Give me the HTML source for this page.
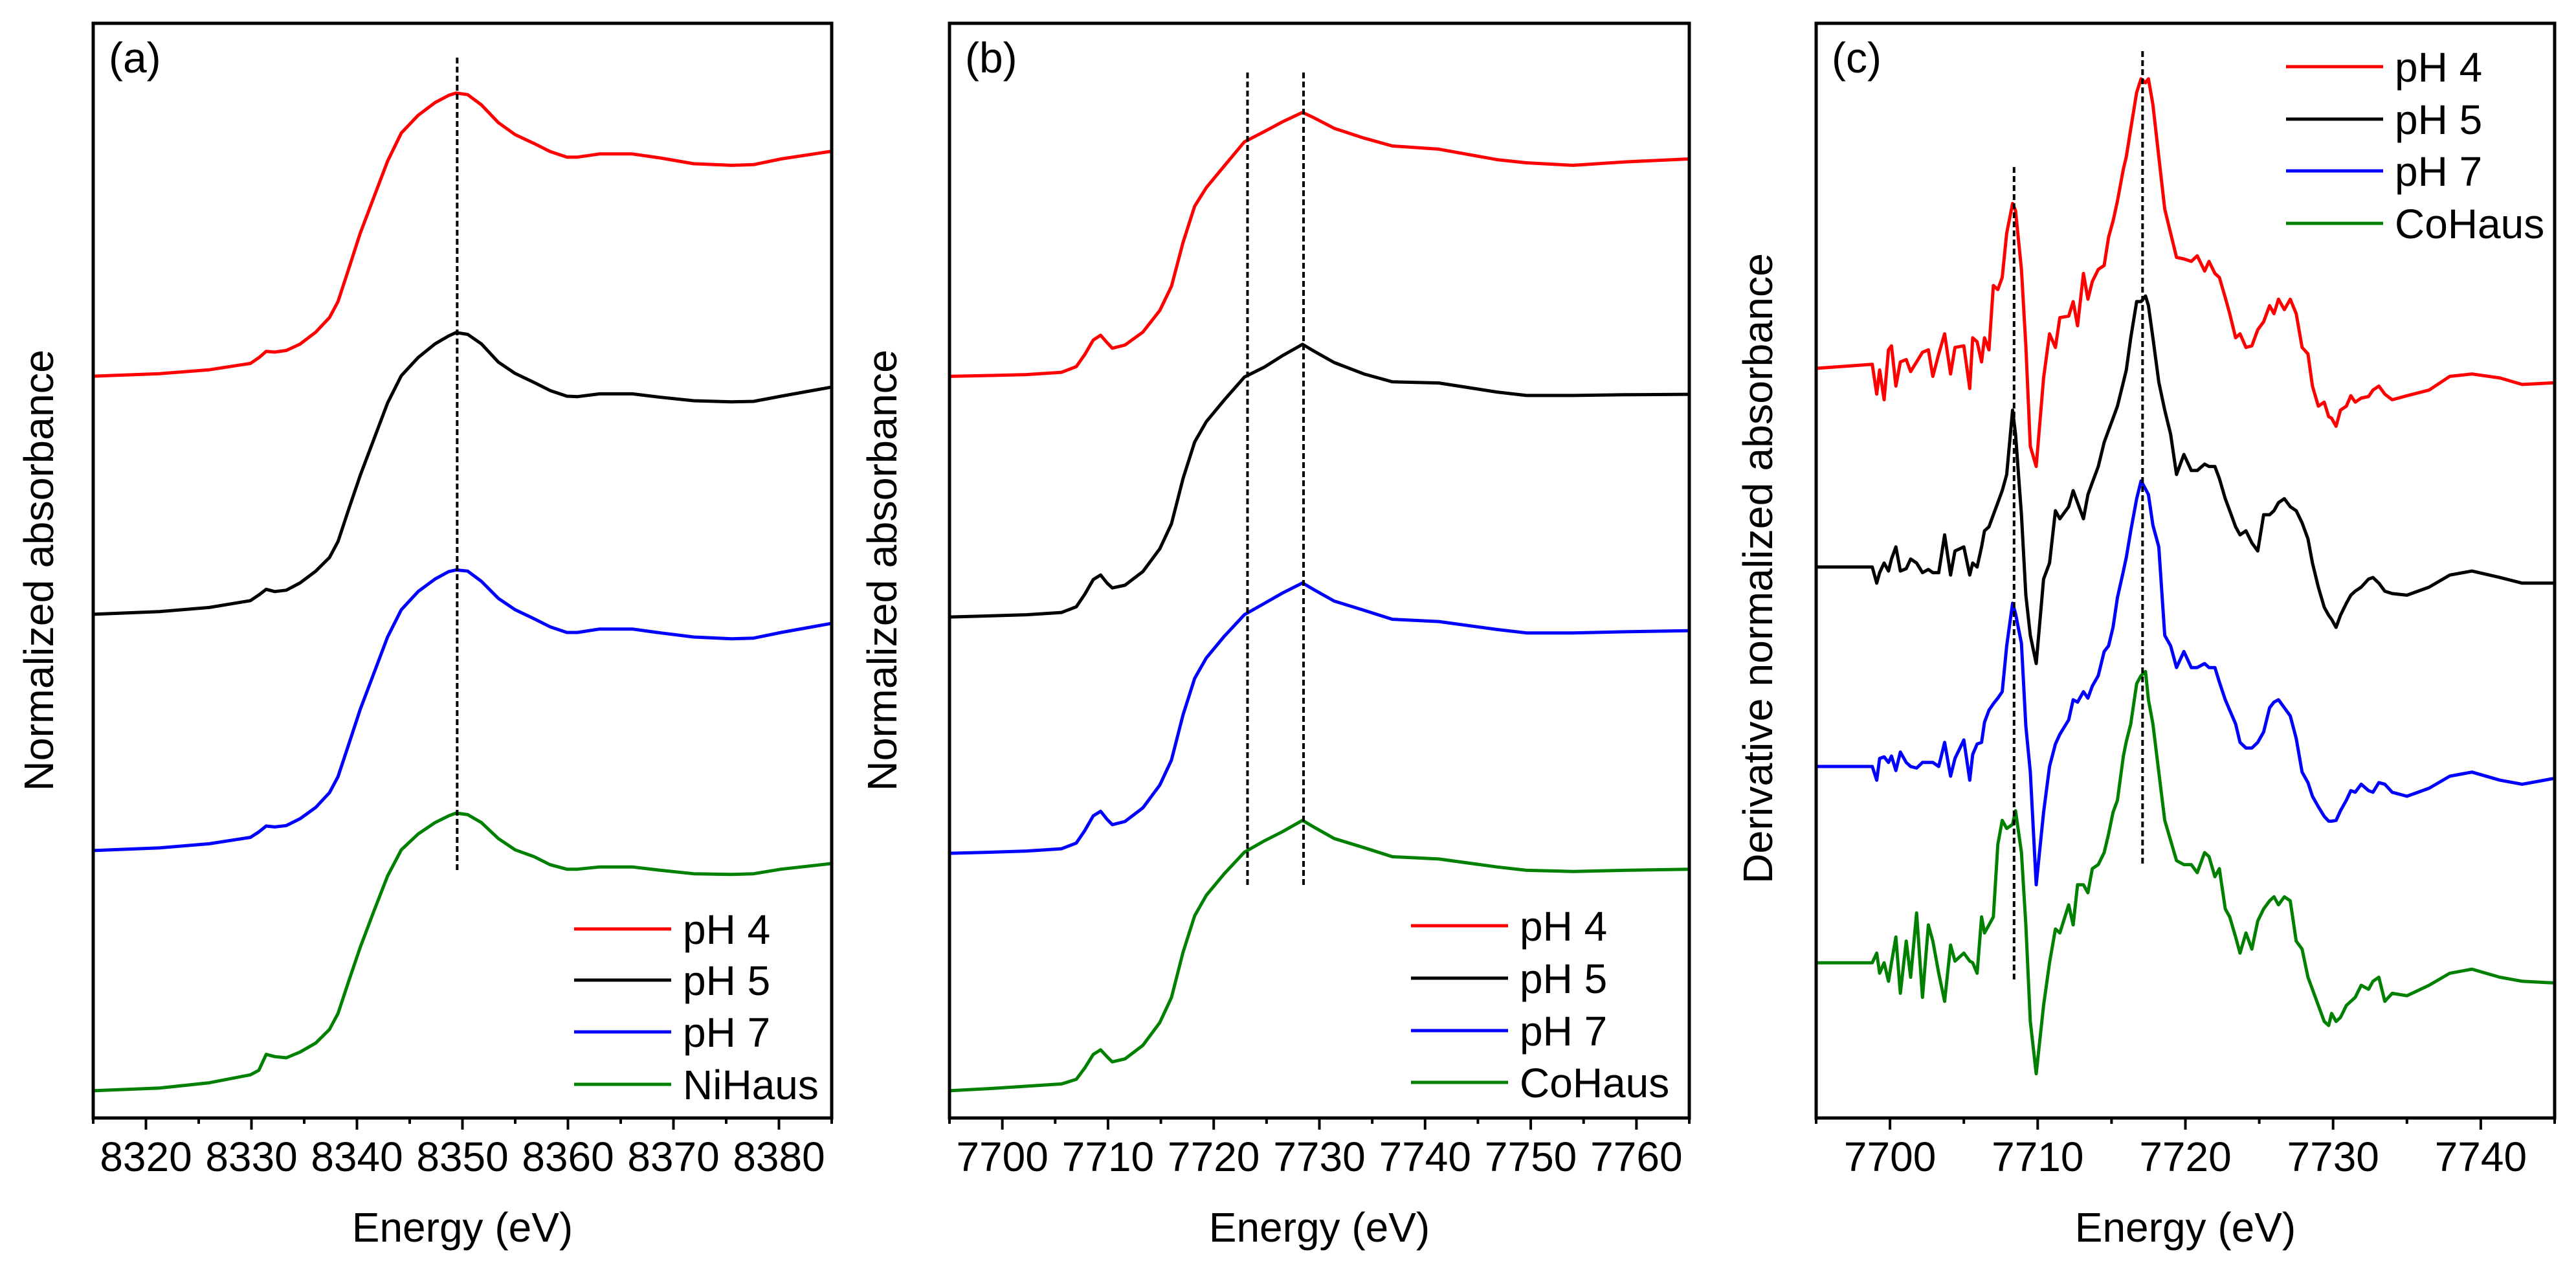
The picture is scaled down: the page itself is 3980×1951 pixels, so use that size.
<!DOCTYPE html>
<html><head><meta charset="utf-8"><style>
html,body{margin:0;padding:0;background:#fff;}
svg{display:block;font-family:"Liberation Sans",Arial,sans-serif;}
</style></head><body>
<svg id="fig" width="3980" height="1951" viewBox="0 0 3980 1951" xmlns="http://www.w3.org/2000/svg"></svg>
<script>
// ---------- Panel (a) Ni K-edge ----------
const aEnergy=[8315,8321.3,8326,8329.9,8330.7,8331.4,8332.2,8333.3,8334.6,8336.1,8337.4,8338.2,8339.2,8340.3,8341.6,8342.9,8344.2,8345.8,8347.4,8348.7,8349.4,8350.5,8351.8,8353.4,8355,8356.8,8358.3,8359.9,8360.9,8363,8366.1,8368.8,8371.9,8375.5,8377.6,8380.2,8385];
const aPH4=[0,0.011,0.028,0.056,0.081,0.109,0.106,0.113,0.141,0.194,0.258,0.328,0.47,0.628,0.787,0.946,1.07,1.148,1.204,1.236,1.246,1.239,1.194,1.116,1.063,1.024,0.989,0.964,0.964,0.978,0.978,0.96,0.935,0.928,0.931,0.956,0.99];
const aPH5=[0,0.012,0.03,0.06,0.085,0.11,0.1,0.106,0.138,0.19,0.25,0.32,0.46,0.61,0.77,0.93,1.05,1.13,1.19,1.225,1.24,1.232,1.19,1.11,1.06,1.02,0.985,0.96,0.958,0.97,0.97,0.955,0.94,0.935,0.937,0.96,1.0];
const aPH7=[0,0.012,0.03,0.058,0.082,0.108,0.104,0.11,0.14,0.19,0.255,0.325,0.465,0.62,0.78,0.94,1.06,1.14,1.195,1.228,1.235,1.23,1.185,1.11,1.06,1.02,0.985,0.96,0.96,0.975,0.975,0.958,0.94,0.932,0.935,0.96,1.0];
const aRef=[0,0.012,0.035,0.07,0.09,0.16,0.15,0.145,0.17,0.21,0.27,0.34,0.48,0.63,0.79,0.945,1.06,1.13,1.18,1.21,1.222,1.215,1.18,1.11,1.06,1.03,0.995,0.975,0.975,0.985,0.985,0.97,0.955,0.952,0.955,0.975,1.0];
const aOffsets=[3.145,2.097,1.057,0];
const aTicks=[8320,8330,8340,8350,8360,8370,8380];
const aDash=[8349.5];
// ---------- Panel (b) Co K-edge ----------
const bEnergy=[7695,7699,7702.3,7705.6,7707,7707.8,7708.6,7709.3,7709.9,7710.4,7711.6,7713.3,7714.9,7716,7717.1,7718.2,7719.3,7721,7722.9,7724.8,7726.5,7728.4,7729.5,7731.4,7734.2,7736.9,7741.3,7746.8,7749.6,7754,7758.9,7765];
const bPH4=[0,0.004,0.008,0.018,0.043,0.096,0.16,0.181,0.149,0.124,0.138,0.195,0.29,0.396,0.59,0.749,0.831,0.926,1.032,1.078,1.12,1.162,1.138,1.092,1.049,1.014,1.0,0.954,0.94,0.929,0.944,0.957];
const bPH5=[0,0.005,0.01,0.02,0.045,0.1,0.165,0.185,0.15,0.128,0.14,0.2,0.3,0.41,0.61,0.77,0.86,0.955,1.056,1.1,1.15,1.2,1.17,1.12,1.07,1.035,1.03,0.99,0.975,0.975,0.978,0.98];
const bPH7=[0,0.005,0.01,0.02,0.045,0.1,0.165,0.185,0.15,0.126,0.14,0.2,0.3,0.41,0.61,0.77,0.86,0.955,1.05,1.1,1.145,1.19,1.16,1.11,1.07,1.03,1.02,0.985,0.97,0.97,0.975,0.98];
const bRef=[0,0.01,0.02,0.03,0.05,0.1,0.16,0.18,0.15,0.127,0.14,0.2,0.3,0.41,0.61,0.77,0.86,0.955,1.05,1.1,1.14,1.19,1.16,1.11,1.07,1.03,1.02,0.985,0.97,0.965,0.97,0.975];
const bOffsets=[3.144,2.085,1.045,0];
const bTicks=[7700,7710,7720,7730,7740,7750,7760];
const bDash=[7723.2,7728.5];
// ---------- Panel (c) derivative ----------
const cEnergy=[7695.0,7698.8,7699.1,7699.3,7699.6,7699.9,7700.1,7700.4,7700.7,7701.1,7701.4,7701.8,7702.2,7702.6,7702.9,7703.3,7703.7,7704.1,7704.4,7705.0,7705.4,7705.6,7705.9,7706.2,7706.4,7706.7,7707.0,7707.3,7707.6,7707.9,7708.3,7708.5,7708.9,7709.2,7709.5,7709.9,7710.4,7710.8,7711.2,7711.5,7712.1,7712.4,7712.7,7713.1,7713.4,7713.7,7714.1,7714.5,7714.8,7715.1,7715.4,7715.8,7716.0,7716.3,7716.7,7717.0,7717.3,7717.5,7717.8,7718.2,7718.6,7719.0,7719.4,7719.9,7720.4,7720.8,7721.3,7721.6,7722.0,7722.3,7722.7,7723.0,7723.4,7723.7,7724.1,7724.5,7724.9,7725.3,7725.7,7726.0,7726.3,7726.7,7727.1,7727.5,7727.9,7728.3,7728.6,7729.0,7729.4,7729.7,7729.9,7730.2,7730.5,7730.9,7731.2,7731.5,7731.9,7732.4,7732.7,7733.1,7733.5,7734.0,7735.0,7736.5,7737.9,7739.4,7741.3,7742.8,7744.9];
const cPH4=[0,0.05,-0.32,-0.02,-0.39,0.23,0.28,-0.22,0.08,0.11,-0.04,0.08,0.2,0.23,-0.1,0.18,0.43,-0.07,0.26,0.28,-0.25,0.38,0.33,0.08,0.38,0.23,1.03,0.98,1.13,1.68,2.05,1.96,1.23,0.28,-0.97,-1.22,-0.12,0.43,0.26,0.63,0.65,0.83,0.53,1.18,0.86,1.08,1.23,1.28,1.63,1.83,2.08,2.48,2.63,2.98,3.43,3.6,3.55,3.6,3.28,2.63,1.98,1.68,1.38,1.36,1.33,1.4,1.21,1.33,1.18,1.13,0.88,0.68,0.38,0.43,0.26,0.28,0.48,0.58,0.78,0.68,0.86,0.73,0.86,0.68,0.26,0.18,-0.22,-0.47,-0.42,-0.6,-0.62,-0.72,-0.52,-0.47,-0.34,-0.42,-0.37,-0.35,-0.27,-0.22,-0.32,-0.39,-0.34,-0.27,-0.1,-0.07,-0.12,-0.2,-0.18];
const cPH5=[0,0,-0.2,-0.07,0.05,-0.05,0.1,0.25,-0.05,-0.02,0.1,0.05,-0.07,-0.03,-0.07,-0.07,0.4,-0.1,0.2,0.25,-0.1,0.05,0,0.25,0.45,0.5,0.65,0.8,0.95,1.15,1.95,1.65,0.65,-0.35,-0.85,-1.2,-0.15,0.05,0.7,0.6,0.75,0.95,0.8,0.6,0.9,1.05,1.25,1.55,1.7,1.85,2.0,2.3,2.45,2.85,3.3,3.3,3.37,3.25,2.85,2.3,1.95,1.65,1.15,1.4,1.2,1.2,1.28,1.25,1.25,1.1,0.85,0.7,0.5,0.4,0.45,0.3,0.2,0.65,0.65,0.7,0.8,0.85,0.75,0.7,0.55,0.35,0.05,-0.25,-0.5,-0.6,-0.65,-0.75,-0.6,-0.45,-0.35,-0.3,-0.25,-0.15,-0.13,-0.2,-0.3,-0.33,-0.35,-0.25,-0.1,-0.05,-0.13,-0.2,-0.2];
const cPH7=[0,0,-0.17,0.1,0.12,0.05,0.13,-0.05,0.18,0.05,0,-0.02,0.05,0.05,0.05,0,0.3,-0.12,0.1,0.33,-0.17,0.15,0.28,0.3,0.55,0.7,0.78,0.85,0.93,1.5,2.03,1.9,1.53,0.5,-0.07,-1.47,-0.57,0,0.28,0.4,0.58,0.83,0.8,0.93,0.85,1.0,1.13,1.43,1.5,1.73,2.1,2.43,2.6,2.93,3.33,3.55,3.45,3.38,3.0,2.73,1.63,1.5,1.23,1.43,1.23,1.23,1.28,1.23,1.23,1.05,0.83,0.7,0.53,0.3,0.23,0.23,0.3,0.43,0.73,0.8,0.83,0.73,0.63,0.35,-0.07,-0.2,-0.37,-0.5,-0.62,-0.68,-0.68,-0.67,-0.55,-0.42,-0.3,-0.32,-0.22,-0.3,-0.32,-0.2,-0.22,-0.32,-0.37,-0.27,-0.12,-0.07,-0.17,-0.22,-0.15];
const cRef=[0,0,0.12,-0.13,0,-0.23,0,0.32,-0.38,0.27,-0.18,0.62,-0.43,0.47,0.27,-0.13,-0.48,0.22,0.02,0.12,0.02,0,-0.13,0.57,0.37,0.47,0.57,1.47,1.77,1.67,1.72,1.89,1.37,0.47,-0.73,-1.38,-0.53,0,0.42,0.37,0.72,0.47,0.97,0.97,0.87,1.17,1.22,1.37,1.6,1.87,2.02,2.57,2.75,2.97,3.47,3.57,3.62,3.27,2.97,2.37,1.77,1.52,1.27,1.22,1.22,1.12,1.37,1.32,1.07,1.17,0.67,0.57,0.32,0.12,0.37,0.17,0.52,0.67,0.77,0.82,0.72,0.82,0.77,0.27,0.17,-0.18,-0.33,-0.53,-0.73,-0.78,-0.63,-0.73,-0.68,-0.53,-0.48,-0.43,-0.28,-0.33,-0.23,-0.18,-0.48,-0.38,-0.41,-0.28,-0.13,-0.08,-0.18,-0.23,-0.25];
const cOffsets=[7.39,4.92,2.44,0];
const cTicks=[7700,7710,7720,7730,7740];
const cDash=[7708.4,7717.1];

const NS="http://www.w3.org/2000/svg";
const svg=document.getElementById('fig');
const colors=['#ff0000','#000000','#0000ff','#008000'];
function mk(tag,attrs,parent){const e=document.createElementNS(NS,tag);for(const k in attrs)e.setAttribute(k,attrs[k]);(parent||svg).appendChild(e);return e;}

function panel(cfg){
  const g=mk('g',{});
  
  
  const L=cfg.left,R=cfg.right,T=36,B=1727;
  const xs=v=>L+(v-cfg.xmin)/(cfg.xmax-cfg.xmin)*(R-L);
  const ys=v=>B-(v-cfg.ymin)/(cfg.ymax-cfg.ymin)*(B-T);
  cfg.series.forEach((s,i)=>{
    let d='';
    cfg.energy.forEach((e,j)=>{d+=(j?'L':'M')+xs(e).toFixed(1)+','+ys(s[j]+cfg.offsets[i]).toFixed(1);});
    const p=mk('path',{d:d,fill:'none',stroke:colors[i],'stroke-width':5,'stroke-linejoin':'round'},g);
    
    
  });
  cfg.dash.forEach((e,k)=>{
    const ln=mk('line',{x1:xs(e),x2:xs(e),y1:cfg.dashY[k][0],y2:cfg.dashY[k][1],stroke:'#000','stroke-width':4,'stroke-dasharray':'9,5'},g);
    
    
  });
  const fr=mk('rect',{x:L,y:T,width:R-L,height:B-T,fill:'none',stroke:'#000','stroke-width':5},g);
  
  
  for(let v=cfg.xmin;v<=cfg.xmax+0.01;v+=5){
    const major=(Math.round(v)%10===0);
    const t=mk('line',{x1:xs(v),x2:xs(v),y1:B,y2:B+(major?18:9),stroke:'#000','stroke-width':4},g);
    
    
  }
  cfg.ticks.forEach(v=>{
    const tx=mk('text',{x:xs(v),y:1809,'font-size':64,'text-anchor':'middle'},g);
    tx.textContent=v;
    
    
  });
  const xt=mk('text',{x:(L+R)/2,y:1918,'font-size':64,'text-anchor':'middle'},g);
  xt.textContent='Energy (eV)';
  
  
  const yt=mk('text',{x:0,y:0,'font-size':64,'text-anchor':'middle',transform:'translate('+cfg.ytitleX+','+cfg.ytitleY+') rotate(-90)',textLength:cfg.ytitleLen,lengthAdjust:'spacingAndGlyphs'},g);
  yt.textContent=cfg.ytitle;
  
  
  const pl=mk('text',{x:L+24,y:112,'font-size':66},g);
  pl.textContent=cfg.tag;
  
  
  cfg.labels.forEach((lab,i)=>{
    const yy=cfg.legY[i];
    const lg=mk('g',{},g);
    
    
    mk('line',{x1:cfg.legX,x2:cfg.legX+150,y1:yy,y2:yy,stroke:colors[i],'stroke-width':5},lg);
    const lt=mk('text',{x:cfg.legX+168,y:yy+23,'font-size':64},lg);
    lt.textContent=lab;
  });
}

panel({name:'panel-a',tag:'(a)',left:144,right:1285,xmin:8315,xmax:8385,ymin:-0.12,ymax:4.698,
  energy:aEnergy,series:[aPH4,aPH5,aPH7,aRef],offsets:aOffsets,ticks:aTicks,dash:aDash,dashY:[[89,1346]],
  labels:['pH 4','pH 5','pH 7','NiHaus'],legX:887,legY:[1435,1514,1594,1675],
  ytitle:'Normalized absorbance',ytitleX:82,ytitleY:881,ytitleLen:682});
panel({name:'panel-b',tag:'(b)',left:1467,right:2610,xmin:7695,xmax:7765,ymin:-0.12,ymax:4.698,
  energy:bEnergy,series:[bPH4,bPH5,bPH7,bRef],offsets:bOffsets,ticks:bTicks,dash:bDash,dashY:[[112,1367],[112,1367]],
  labels:['pH 4','pH 5','pH 7','CoHaus'],legX:2180,legY:[1430,1511,1592,1672],
  ytitle:'Normalized absorbance',ytitleX:1385,ytitleY:881,ytitleLen:682});
panel({name:'panel-c',tag:'(c)',left:2806,right:3947,xmin:7695,xmax:7745,ymin:-1.93,ymax:11.68,
  energy:cEnergy,series:[cPH4,cPH5,cPH7,cRef],offsets:cOffsets,ticks:cTicks,dash:cDash,dashY:[[258,1516],[79,1336]],
  labels:['pH 4','pH 5','pH 7','CoHaus'],legX:3532,legY:[103,184,264,345],
  ytitle:'Derivative normalized absorbance',ytitleX:2738,ytitleY:878,ytitleLen:974});
</script>
</body></html>
